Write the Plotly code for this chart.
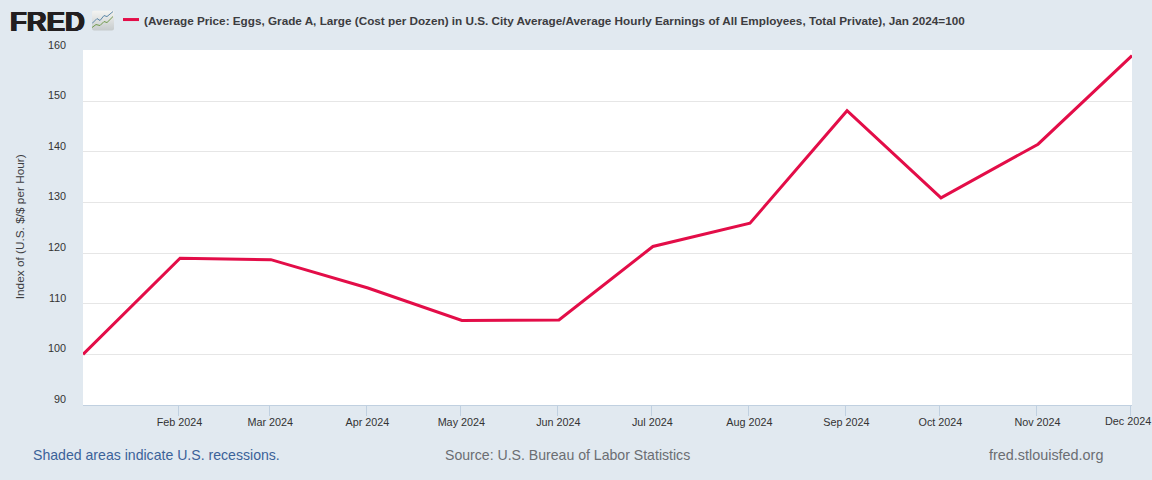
import base64
import plotly.graph_objects as go

months = ["2024-01-01", "2024-02-01", "2024-03-01", "2024-04-01", "2024-05-01", "2024-06-01",
          "2024-07-01", "2024-08-01", "2024-09-01", "2024-10-01", "2024-11-01", "2024-12-01"]
index_values = [100.0, 119.0, 118.7, 113.1, 106.7, 106.8, 121.3, 125.9, 148.1, 130.9, 141.5, 159.0]
x_tick_positions = ["2024-01-31 12:00", "2024-02-29 12:00", "2024-03-31 12:00", "2024-04-30 12:00",
                    "2024-05-31 12:00", "2024-06-30 12:00", "2024-07-31 12:00", "2024-08-31 12:00",
                    "2024-09-30 12:00", "2024-10-31 12:00", "2024-11-30 12:00"]
x_tick_labels = ["Feb 2024", "Mar 2024", "Apr 2024", "May 2024", "Jun 2024", "Jul 2024",
                 "Aug 2024", "Sep 2024", "Oct 2024", "Nov 2024", "Dec 2024"]
y_ticks = [90, 100, 110, 120, 130, 140, 150, 160]
series_title = ("(Average Price: Eggs, Grade A, Large (Cost per Dozen) in U.S. City Average/"
                "Average Hourly Earnings of All Employees, Total Private), Jan 2024=100")
FONT = "Liberation Sans, Arial, sans-serif"
BG = "#e1e9f0"
LINE = "#e30d48"

icon = """<svg xmlns='http://www.w3.org/2000/svg' width='23' height='21' viewBox='0 0 23 21'>
<defs><linearGradient id='g' x1='0' y1='0' x2='0' y2='1'><stop offset='0' stop-color='#f4f4f2'/><stop offset='1' stop-color='#c6cbcc'/></linearGradient></defs>
<rect width='22' height='20' rx='2' fill='url(#g)'/>
<polyline points='0,13 5,8 8,10 12,5 15,6 21,1' fill='none' stroke='#5b87a8' stroke-width='1'/>
<polyline points='0,17 4,14 8,15 12,11 15,12 21,6' fill='none' stroke='#6f9a4a' stroke-width='1'/>
</svg>"""
icon_uri = "data:image/svg+xml;base64," + base64.b64encode(icon.encode()).decode()

fig = go.Figure(go.Scatter(x=months, y=index_values, mode="lines", name=series_title,
                           line=dict(color=LINE, width=3), showlegend=False, cliponaxis=True,
                           hoverinfo="x+y"))

annotations = [
    dict(x=-0.0143, y=y, xref="paper", yref="y", yshift=6, text=str(y), showarrow=False,
         xanchor="right", yanchor="middle", font=dict(family=FONT, size=10.8, color="#333333"))
    for y in y_ticks
]
def px(x, y, text, size, color, anchor="left", **kw):
    font_extra = kw.pop("font_extra", {})
    return dict(x=x, y=y, xref="paper", yref="paper", text=text, showarrow=False, xanchor=anchor,
                yanchor="middle", font=dict(family=FONT, size=size, color=color, **font_extra), **kw)
W, H = 1049, 355.5
fx = lambda p: (p - 83) / W
fy = lambda p: (405.5 - p) / H
annotations += [
    px(fx(142), fy(20), "<b>" + series_title + "</b>", 11.73, "#3c3c40"),
    px(fx(31), fy(456), "Shaded areas indicate U.S. recessions.", 14.1, "#3b6299"),
    px(fx(443), fy(456), "Source: U.S. Bureau of Labor Statistics", 14.1, "#6b6e73"),
    px(fx(987), fy(456), "fred.stlouisfed.org", 14.4, "#6b6e73"),
    px(fx(8), fy(21), "<b>FRED</b>", 27.5, "#231f20",
       font_extra=dict(shadow="0.8px 0 #231f20, -0.8px 0 #231f20, 0 0.4px #231f20, 0 -0.4px #231f20")),
    px(fx(20), fy(227.5), "Index of (U.S. $/$ per Hour)", 11.8, "#3c3c40", anchor="center", textangle=-90),
    dict(x=x_tick_positions[-1], y=fy(421.5), xref="x", yref="paper", text=x_tick_labels[-1], showarrow=False,
         xanchor="right", yanchor="middle", xshift=23, font=dict(family=FONT, size=10.8, color="#333333")),
]

fig.update_layout(
    width=1152, height=480, autosize=False,
    margin=dict(l=83, r=20, t=50, b=74.5, pad=0),
    paper_bgcolor=BG, plot_bgcolor="#ffffff",
    font=dict(family=FONT, size=11, color="#333333"),
    xaxis=dict(range=[months[0], months[-1]], type="date", tickmode="array",
               tickvals=x_tick_positions, ticktext=x_tick_labels, ticks="outside", ticklen=10,
               tickwidth=1, tickcolor="#c0d0e0", showline=True, linecolor="#c0d0e0", linewidth=1,
               showgrid=False, zeroline=False, tickangle=0, ticklabelshift=1, ticklabelstandoff=-3,
               tickfont=dict(family=FONT, size=10.8, color="#333333")),
    yaxis=dict(range=[90, 160.1], tickmode="array", tickvals=y_ticks, showticklabels=False,
               showgrid=True, gridcolor="#e6e6e6", gridwidth=1, zeroline=False, showline=False),
    annotations=annotations,
    shapes=[dict(type="line", xref="paper", yref="paper", x0=fx(123), x1=fx(139), y0=fy(19.5), y1=fy(19.5),
                 line=dict(color=LINE, width=3))],
    images=[dict(source=icon_uri, xref="paper", yref="paper", x=fx(92), y=fy(10.5), sizex=23/W, sizey=21/H,
                 xanchor="left", yanchor="top", sizing="stretch", layer="above")],
)
fig.write_html("out.html", config=dict(displayModeBar=False),
               post_script="document.body.style.margin='0';")
